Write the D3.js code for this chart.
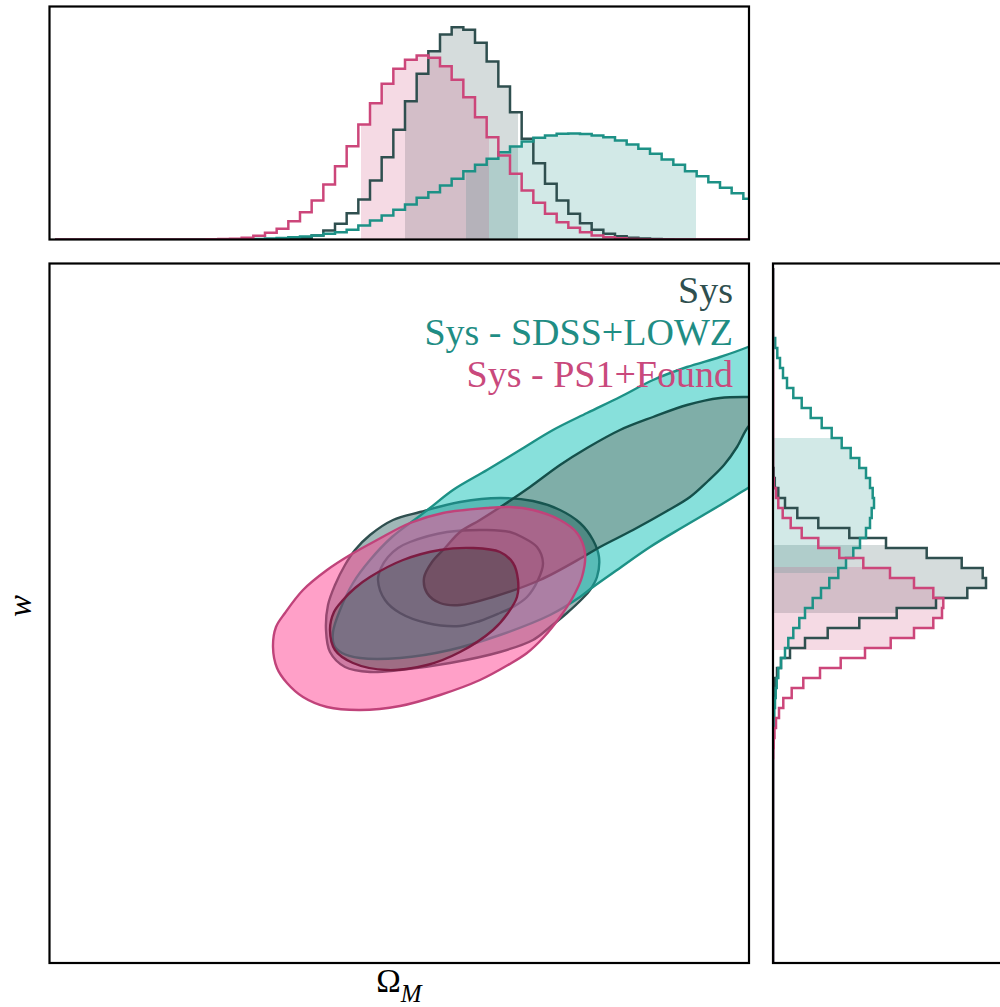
<!DOCTYPE html>
<html>
<head>
<meta charset="utf-8">
<script src="https://cdnjs.cloudflare.com/ajax/libs/d3/7.8.5/d3.min.js"></script>
<style>
  html, body { margin: 0; padding: 0; background: #fff; }
  svg { display: block; }
</style>
</head>
<body>
<svg id="chart" width="1000" height="1007"></svg>
<script>
// ---------------- data ----------------
const chainNames = ["Sys", "Sys - SDSS+LOWZ", "Sys - PS1+Found"];

// plotted parameter ranges
const omDomain = [0.0495, 0.749];
const wDomain = [-1.77, -0.37];

// Omega_M marginal: 60 equal-width bins between these edges
const omBinLo = 0.055, omBinHi = 0.755;
const omHistSys = [0,0,0,0,0,0,0,0,0,0,0,0,0,0,0,0,0,
  0.1,0.2,0.4,0.8,1.7,4,9,15.7,26.3,40,59,82.3,109.7,138.3,165.7,188.3,205,212.3,209.7,
  196.7,178,153,127.3,100.7,76.3,55.7,39,25.7,16.3,9.7,5.7,3.3,1.8,1,0.5,0.2,0.1,
  0,0,0,0,0,0];
const omHistSDSS = [0,0,0,0,0,0,0,0,0,0,0,0,0,0,0,
  0.1,0.3,0.6,1,1.5,2.3,3,4,5.7,7.3,9.7,14,19,24,29.7,35,41.7,47.3,54,60.7,68.3,74.7,
  80.7,87.3,93,98,101.7,104,105.7,106,105.5,104,102.3,99,95,90.7,85.7,80,74.7,68.3,
  63.3,57.3,51.7,46.3,40.7];
const omHistPS1 = [0,0,0,0,0,0,0,0,0,0,0,0,0,
  0.2,0.5,0.8,1.7,3.7,6.7,10.7,18.3,27.3,39,55,73.3,93.3,115,136.3,155.7,170.7,179.7,
  184,181.7,173.3,159.7,142.3,122.3,102.3,84,65.7,49,36.7,25.7,17.3,11.7,7.3,4,2.3,
  1.2,0.6,0.3,0.1,0,0,0,0,0,0,0,0];

// w marginal: 70 equal-width bins, values listed from the highest w bin downwards
const wBinHi = -0.38, wBinLo = -1.78;
const wHistSys = [0,0,0,0,0,0,0,0,0,0,0,0,0,0,0,0,0,0,0,0,
  0.6,1.8,5.3,12,24.3,45.3,76.3,113,153.7,188.7,209.7,213,194.3,163,123.7,86.3,54.7,
  32,17,8,4,2,1,0.5,0.2,
  0,0,0,0,0,0,0,0,0,0,0,0,0,0,0,0,0,0,0,0,0,0,0,0,0];
const wHistSDSS = [0,0,0,0,0,0,
  0,2.2,4.3,7,10,14,20.3,28.7,37.7,48.7,58.7,68.7,77.7,86.3,93,97,99.7,101,98.7,97,
  93,87,80.3,73,65.3,56.3,48,39.7,32,26.3,20.3,15.3,12,8,5.3,3.7,2.7,2,1.3,0.8,0.4,0.2,
  0,0,0,0,0,0,0,0,0,0,0,0,0,0,0,0,0,0,0,0,0,0];
const wHistPS1 = [0,0,0,0,0,0,0,0,0,0,0,0,0,0,0,0,0,0,0,0,0,
  0.8,3,5.3,9.7,17.7,28.7,45.3,66.3,90.3,117,141,160.3,170.3,169,160.3,141,117.7,92,
  67.7,47,30.3,18.7,10.3,6,3,1.5,0.7,0.3,
  0,0,0,0,0,0,0,0,0,0,0,0,0,0,0,0,0,0,0,0,0];

// shaded 68% intervals of each marginal
const omIntervals = [[0.405, 0.518], [0.466, 0.696], [0.361, 0.489]];
const wIntervals = [[-1.070, -0.934], [-0.990, -0.720], [-1.144, -0.978]];

// 2D credible regions (Omega_M, w): outer = 95%, inner = 68%
const sysOuter = [[0.326,-1.104],[0.328,-1.054],[0.335,-1.014],[0.345,-0.974],[0.355,-0.944],
  [0.370,-0.914],[0.393,-0.884],[0.420,-0.868],[0.460,-0.848],[0.500,-0.840],[0.533,-0.846],
  [0.560,-0.864],[0.580,-0.890],[0.593,-0.924],[0.599,-0.958],[0.597,-0.998],[0.590,-1.024],
  [0.583,-1.040],[0.567,-1.070],[0.550,-1.098],[0.533,-1.124],[0.500,-1.148],[0.450,-1.170],
  [0.400,-1.184],[0.370,-1.188],[0.345,-1.178],[0.330,-1.148]];
const sysInner = [[0.378,-1.004],[0.381,-0.980],[0.388,-0.958],[0.398,-0.940],[0.410,-0.928],
  [0.447,-0.908],[0.487,-0.904],[0.510,-0.908],[0.522,-0.918],[0.537,-0.938],[0.543,-0.970],
  [0.538,-1.004],[0.527,-1.038],[0.513,-1.058],[0.500,-1.070],[0.480,-1.086],[0.460,-1.096],
  [0.427,-1.090],[0.400,-1.070],[0.385,-1.044]];
const sdssOuter = [[0.775,-0.514],[0.748,-0.538],[0.720,-0.558],[0.687,-0.578],[0.653,-0.604],
  [0.620,-0.638],[0.587,-0.670],[0.553,-0.704],[0.520,-0.744],[0.487,-0.784],[0.453,-0.824],
  [0.430,-0.860],[0.417,-0.880],[0.392,-0.918],[0.370,-0.964],[0.353,-1.010],[0.340,-1.064],
  [0.333,-1.108],[0.334,-1.134],[0.342,-1.150],[0.360,-1.160],[0.400,-1.160],[0.450,-1.144],
  [0.500,-1.114],[0.550,-1.074],[0.580,-1.038],[0.593,-1.018],[0.617,-0.984],[0.650,-0.938],
  [0.683,-0.898],[0.717,-0.858],[0.748,-0.820],[0.775,-0.788]];
const sdssInner = [[0.775,-0.640],[0.748,-0.638],[0.720,-0.640],[0.687,-0.654],[0.653,-0.678],
  [0.620,-0.704],[0.587,-0.740],[0.560,-0.774],[0.530,-0.818],[0.505,-0.852],[0.480,-0.884],
  [0.460,-0.908],[0.445,-0.940],[0.432,-0.968],[0.424,-1.000],[0.427,-1.030],[0.440,-1.050],
  [0.460,-1.054],[0.493,-1.038],[0.540,-1.004],[0.583,-0.958],[0.600,-0.938],[0.633,-0.904],
  [0.667,-0.866],[0.690,-0.838],[0.708,-0.806],[0.724,-0.774],[0.737,-0.738],[0.748,-0.698],
  [0.765,-0.664]];
const ps1Outer = [[0.273,-1.138],[0.276,-1.098],[0.285,-1.070],[0.303,-1.024],[0.327,-0.984],
  [0.350,-0.954],[0.377,-0.924],[0.410,-0.890],[0.443,-0.870],[0.487,-0.860],[0.510,-0.858],
  [0.533,-0.864],[0.560,-0.884],[0.577,-0.910],[0.585,-0.950],[0.582,-0.998],[0.573,-1.038],
  [0.560,-1.078],[0.543,-1.120],[0.527,-1.150],[0.508,-1.174],[0.480,-1.204],[0.440,-1.234],
  [0.400,-1.256],[0.360,-1.264],[0.327,-1.258],[0.303,-1.238],[0.287,-1.210],[0.277,-1.180]];
const ps1Inner = [[0.330,-1.104],[0.334,-1.068],[0.343,-1.044],[0.355,-1.020],[0.370,-0.998],
  [0.403,-0.964],[0.440,-0.944],[0.473,-0.940],[0.500,-0.948],[0.513,-0.970],[0.518,-1.004],
  [0.517,-1.038],[0.508,-1.070],[0.493,-1.104],[0.460,-1.148],[0.427,-1.174],[0.387,-1.184],
  [0.353,-1.170],[0.335,-1.144]];

// ---------------- styling ----------------
const lineColors = ["#2f4f4f", "#1d9186", "#cc467a"];
const textColors = ["#2f4f4f", "#1f8d84", "#c9497c"];
const contourStyles = [
  { outer: sysOuter,  inner: sysInner,  outerFill: "#426f6f", innerFill: "#253e3e", outerLine: "#2f4f4f", innerLine: "#1e3434" },
  { outer: sdssOuter, inner: sdssInner, outerFill: "#10c2b8", innerFill: "#005d51", outerLine: "#1d9186", innerLine: "#15504b" },
  { outer: ps1Outer,  inner: ps1Inner,  outerFill: "#ff4191", innerFill: "#9d2451", outerLine: "#c0437a", innerLine: "#7c1c42" }
];

// ---------------- layout ----------------
const svg = d3.select("#chart");
const mainBox = { x0: 49.5, x1: 749, y0: 263.5, y1: 963 };
const topBox  = { x0: 49.5, x1: 749, y0: 6.5,   y1: 239.5 };
const sideBox = { x0: 773,  x1: 1005, y0: 263.5, y1: 963 };

const x = d3.scaleLinear().domain(omDomain).range([mainBox.x0, mainBox.x1]);
const y = d3.scaleLinear().domain(wDomain).range([963, 263]);
const histMax = 232;
const hy = d3.scaleLinear().domain([0, histMax]).range([topBox.y1, topBox.y1 - histMax]);
const hx = d3.scaleLinear().domain([0, histMax]).range([sideBox.x0, sideBox.x0 + histMax]);

const defs = svg.append("defs");
function clip(id, b) {
  defs.append("clipPath").attr("id", id).append("rect")
    .attr("x", b.x0).attr("y", b.y0).attr("width", b.x1 - b.x0).attr("height", b.y1 - b.y0);
}
clip("clip-main", mainBox);
clip("clip-top", topBox);
clip("clip-side", sideBox);

// ---------------- main panel: credible regions ----------------
const gMain = svg.append("g").attr("clip-path", "url(#clip-main)");
const contourLine = d3.line()
  .x(d => x(d[0])).y(d => y(d[1]))
  .curve(d3.curveCatmullRomClosed.alpha(0.5));

contourStyles.forEach(s => {
  const outerD = contourLine(s.outer);
  const innerD = contourLine(s.inner);
  // outer band is a ring: the 68% region is cut out of it
  gMain.append("path").attr("d", outerD + innerD)
    .attr("fill", s.outerFill).attr("fill-opacity", 0.5).attr("fill-rule", "evenodd");
  gMain.append("path").attr("d", innerD)
    .attr("fill", s.innerFill).attr("fill-opacity", 0.5);
  gMain.append("path").attr("d", outerD)
    .attr("fill", "none").attr("stroke", s.outerLine).attr("stroke-width", 2.4);
  gMain.append("path").attr("d", innerD)
    .attr("fill", "none").attr("stroke", s.innerLine).attr("stroke-width", 2.4);
});

// legend text
const legendY = [303, 345, 387];
chainNames.forEach((name, i) => {
  svg.append("text")
    .attr("x", 733).attr("y", legendY[i])
    .attr("text-anchor", "end")
    .attr("font-family", "'Liberation Serif', 'DejaVu Serif', serif")
    .attr("font-size", 38)
    .attr("fill", textColors[i])
    .text(name);
});

// ---------------- marginal histograms ----------------
const omEdges = d3.range(61).map(i => omBinLo + i * (omBinHi - omBinLo) / 60);
const wEdgesAsc = d3.range(71).map(i => wBinLo + i * (wBinHi - wBinLo) / 70);

function stepPoints(edges, vals) {
  const pts = [];
  vals.forEach((v, k) => { pts.push([edges[k], v]); pts.push([edges[k + 1], v]); });
  return pts;
}
function binIndex(edges, t) {
  for (let k = 0; k < edges.length - 1; k++) if (t >= edges[k] && t < edges[k + 1]) return k;
  return edges.length - 2;
}
function stepFill(edges, vals, lo, hi) {
  const pts = [[lo, 0]];
  const k0 = binIndex(edges, lo), k1 = binIndex(edges, hi);
  pts.push([lo, vals[k0]]);
  for (let j = k0 + 1; j <= k1; j++) {
    pts.push([edges[j], vals[j - 1]]);
    pts.push([edges[j], vals[j]]);
  }
  pts.push([hi, vals[k1]]);
  pts.push([hi, 0]);
  return pts;
}

const omHists = [omHistSys, omHistSDSS, omHistPS1];
const wHistsAsc = [wHistSys, wHistSDSS, wHistPS1].map(a => a.slice().reverse());

// Omega_M marginal (top)
const gTop = svg.append("g").attr("clip-path", "url(#clip-top)");
const topLine = d3.line().x(d => x(d[0])).y(d => hy(d[1]));
omHists.forEach((vals, i) => {
  const [lo, hi] = omIntervals[i];
  gTop.append("path").attr("d", topLine(stepFill(omEdges, vals, lo, hi)) + "Z")
    .attr("fill", lineColors[i]).attr("fill-opacity", 0.2);
});

// w marginal (right)
const gSide = svg.append("g").attr("clip-path", "url(#clip-side)");
const sideLine = d3.line().x(d => hx(d[1])).y(d => y(d[0]));
wHistsAsc.forEach((vals, i) => {
  const [lo, hi] = wIntervals[i];
  gSide.append("path").attr("d", sideLine(stepFill(wEdgesAsc, vals, lo, hi)) + "Z")
    .attr("fill", lineColors[i]).attr("fill-opacity", 0.2);
});

// ---------------- panel frames ----------------
[mainBox, topBox, sideBox].forEach(b => {
  svg.append("rect")
    .attr("x", b.x0).attr("y", b.y0).attr("width", b.x1 - b.x0).attr("height", b.y1 - b.y0)
    .attr("fill", "none").attr("stroke", "#000").attr("stroke-width", 2.2);
});

// step outlines drawn over the frames
omHists.forEach((vals, i) => {
  gTop.append("path").attr("d", topLine(stepPoints(omEdges, vals)))
    .attr("fill", "none").attr("stroke", lineColors[i]).attr("stroke-width", 2.5)
    .attr("stroke-linejoin", "miter");
});
wHistsAsc.forEach((vals, i) => {
  gSide.append("path").attr("d", sideLine(stepPoints(wEdgesAsc, vals)))
    .attr("fill", "none").attr("stroke", lineColors[i]).attr("stroke-width", 2.5)
    .attr("stroke-linejoin", "miter");
});

// ---------------- axis labels ----------------
const xLabel = svg.append("text")
  .attr("x", 399).attr("y", 992)
  .attr("text-anchor", "middle")
  .attr("font-family", "'Liberation Serif', 'DejaVu Serif', serif")
  .attr("font-size", 33)
  .attr("fill", "#000");
xLabel.append("tspan").text("Ω");
xLabel.append("tspan").attr("font-style", "italic").attr("font-size", 25).attr("dy", 10).text("M");

svg.append("text")
  .attr("transform", "translate(31,606) rotate(-90)")
  .attr("text-anchor", "middle")
  .attr("font-family", "'Liberation Serif', 'DejaVu Serif', serif")
  .attr("font-style", "italic")
  .attr("font-size", 33)
  .attr("fill", "#000")
  .text("w");
</script>
</body>
</html>
